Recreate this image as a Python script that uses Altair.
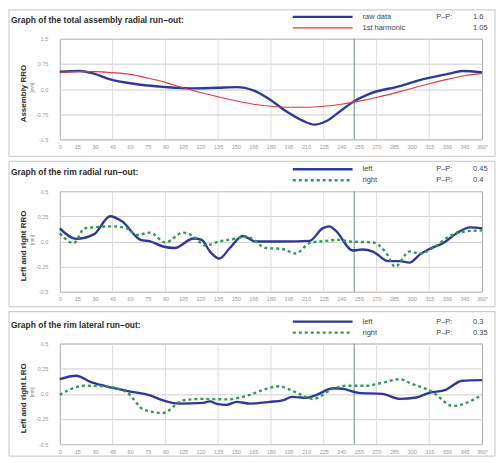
import altair as alt
import pandas as pd

# ---------------- data ----------------
deg_ticks = list(range(0, 361, 15))
vgrid_deg = [45, 90, 135, 180, 225, 270, 315]
marker_deg = [251]

# panel 1: total assembly radial run-out
raw_deg = [0, 17, 29, 43, 63, 90, 111, 134, 151, 165, 179, 193, 207, 217, 227, 239, 251, 264, 290, 309, 332, 343, 360]
raw_val = [0.52, 0.54, 0.46, 0.29, 0.16, 0.06, 0.02, 0.04, 0.06, -0.04, -0.31, -0.66, -0.94, -1.06, -0.96, -0.66,
           -0.36, -0.14, 0.09, 0.29, 0.46, 0.54, 0.50]
harm_deg = list(range(0, 361, 15))
harm_val = [0.49, 0.52, 0.52, 0.49, 0.44, 0.33, 0.20, 0.04, -0.10, -0.23, -0.35, -0.45, -0.51, -0.54, -0.54,
            -0.51, -0.45, -0.36, -0.25, -0.12, 0.02, 0.16, 0.29, 0.40, 0.47]

# panel 2: rim radial run-out
left2_deg = [0, 14, 29, 43, 53, 69, 77, 88, 98, 114, 121, 128, 136, 145, 156, 167, 190, 213, 224, 230, 235, 250,
             258, 267, 280, 290, 298, 307, 315, 327, 338, 350, 360]
left2_val = [0.13, 0.026, 0.07, 0.25, 0.20, 0.016, 0.0, -0.05, -0.065, 0.03, 0.016, -0.10, -0.17, -0.065, 0.055, 0.0,
             0.0, 0.006, 0.13, 0.15, 0.11, -0.09, -0.08, -0.10, -0.195, -0.195, -0.21, -0.13, -0.075, -0.016, 0.08,
             0.14, 0.13]
right2_deg = [0, 12, 21, 35, 46, 57, 66, 77, 90, 105, 114, 124, 136, 151, 159, 176, 190, 201, 213, 227, 238, 247,
              267, 278, 286, 298, 307, 318, 332, 346, 360]
right2_val = [0.08, -0.016, 0.13, 0.146, 0.15, 0.13, 0.065, 0.088, -0.01, 0.088, 0.05, -0.04, 0.0, 0.03, 0.05,
              -0.065, -0.075, -0.12, -0.016, 0.006, 0.016, 0.0, -0.01, -0.11, -0.25, -0.10, -0.12, -0.065, 0.05,
              0.10, 0.11]

# panel 3: rim lateral run-out
left3_deg = [0, 14, 26, 38, 57, 77, 88, 102, 122, 128, 134, 142, 151, 162, 179, 190, 198, 210, 219, 233, 241, 255,
             275, 290, 304, 315, 329, 343, 360]
left3_val = [0.146, 0.18, 0.12, 0.08, 0.03, -0.016, -0.065, -0.097, -0.09, -0.075, -0.10, -0.11, -0.08, -0.097,
             -0.08, -0.065, -0.03, -0.04, -0.01, 0.055, 0.05, 0.01, 0.0, -0.05, -0.036, 0.01, 0.04, 0.13, 0.136]
right3_deg = [0, 10, 21, 38, 57, 72, 88, 105, 122, 142, 162, 176, 187, 201, 216, 233, 244, 261, 275, 290, 298, 318,
              335, 360]
right3_val = [-0.01, 0.05, 0.08, 0.075, 0.016, -0.16, -0.19, -0.065, -0.05, -0.055, -0.01, 0.05, 0.075, 0.016,
              -0.05, 0.05, 0.08, 0.08, 0.11, 0.146, 0.11, 0.016, -0.12, -0.01]

titles = ["Graph of the total assembly radial run\u2013out:",
          "Graph of the rim radial run\u2013out:",
          "Graph of the rim lateral run\u2013out:"]
y_titles = ["Assembly RRO", "Left and right RRO", "Left and right LRO"]
legend_labels = [["raw data", "1st harmonic"], ["left", "right"], ["left", "right"]]
pp_labels = [["P\u2013P:", ""], ["P\u2013P:", "P\u2013P:"], ["P\u2013P:", "P\u2013P:"]]
pp_values = [["1.6", "1.05"], ["0.45", "0.4"], ["0.3", "0.35"]]
y_ticks_big = [1.5, 0.75, 0.0, -0.75, -1.5]
y_ticks_small = [0.5, 0.25, 0.0, -0.25, -0.5]

# ---------------- styles ----------------
W, H = 424, 101
BLUE = "#2e3a98"
RED = "#e23a3a"
GREEN = "#2f9a52"
FONT = "Liberation Sans"
dummy = pd.DataFrame({"a": [0]})

line_styles = {
    "blue": dict(color=BLUE, strokeWidth=2.4),
    "red": dict(color=RED, strokeWidth=1.1),
    "green": dict(color=GREEN, strokeWidth=2.4, strokeDash=[3, 3]),
}


def panel(idx, series, ticks, top, bottom):
    ymax = ticks[0]
    xs = alt.Scale(domain=[0, 360], nice=False, zero=False)
    ys = alt.Scale(domain=[-ymax, ymax], nice=False, zero=False)
    x_axis = alt.Axis(values=deg_ticks, grid=False, domain=False, ticks=False, labelFontSize=5.5,
                      labelColor="#999999", labelPadding=5, title=None, labelFont=FONT,
                      labelOverlap=False, labelBound=False,
                      labelExpr="datum.value == 360 ? '360\u00b0' : datum.value", labelFlush=False)
    y_axis = alt.Axis(values=ticks, grid=True, gridColor="#cfcfcf", domain=False, ticks=False, labelFontSize=5.5,
                      labelColor="#999999", labelPadding=12, title=None, labelFont=FONT, labelOverlap=False,
                      labelExpr="datum.value == 0 ? '0.0' : '' + datum.value")

    layers = []
    # frame
    layers.append(alt.Chart(dummy).mark_rect(fillOpacity=0, stroke="#c4c4c4", strokeWidth=1).encode(
        x=alt.value(-51), x2=alt.value(W + 13), y=alt.value(-top), y2=alt.value(H + bottom)))
    # vertical grid
    layers.append(alt.Chart(pd.DataFrame({"deg": vgrid_deg})).mark_rule(color="#dcdcdc", strokeWidth=1).encode(
        x=alt.X("deg:Q", scale=xs, axis=x_axis),
        y=alt.value(0), y2=alt.value(H)))
    layers.append(alt.Chart(pd.DataFrame({"deg": marker_deg})).mark_rule(color="#6f8c8c", strokeWidth=1).encode(
        x=alt.X("deg:Q", scale=xs, axis=x_axis), y=alt.value(0), y2=alt.value(H)))
    # series
    for degs, vals, style in series:
        df = pd.DataFrame({"deg": degs, "val": vals})
        layers.append(alt.Chart(df).mark_line(interpolate="monotone", **line_styles[style]).encode(
            x=alt.X("deg:Q", scale=xs, axis=x_axis),
            y=alt.Y("val:Q", scale=ys, axis=y_axis)))
    # title
    layers.append(alt.Chart(dummy).mark_text(text=titles[idx], align="left", baseline="middle", fontSize=8.5,
                                             fontWeight="bold", font=FONT, color="#2a2a2a").encode(
        x=alt.value(-49), y=alt.value(-19)))
    # y titles
    layers.append(alt.Chart(dummy).mark_text(text=y_titles[idx], angle=270, align="center", baseline="middle",
                                             fontSize=8, fontWeight="bold", font=FONT, color="#2a2a2a").encode(
        x=alt.value(-36), y=alt.value(55)))
    layers.append(alt.Chart(dummy).mark_text(text="[mm]", angle=270, align="center", baseline="middle",
                                             fontSize=4.5, font=FONT, color="#888888").encode(
        x=alt.value(-27), y=alt.value(49)))
    # legend
    row_y = [-22, -11]
    for r in range(2):
        style = series[r][2]
        layers.append(alt.Chart(dummy).mark_rule(**line_styles[style]).encode(
            x=alt.value(234), x2=alt.value(294), y=alt.value(row_y[r])))
        layers.append(alt.Chart(dummy).mark_text(text=legend_labels[idx][r], align="left", baseline="middle",
                                                 fontSize=7.5, font=FONT, color="#444444").encode(
            x=alt.value(304), y=alt.value(row_y[r])))
        if pp_labels[idx][r]:
            layers.append(alt.Chart(dummy).mark_text(text=pp_labels[idx][r], align="left", baseline="middle",
                                                     fontSize=7.5, font=FONT, color="#444444").encode(
                x=alt.value(378), y=alt.value(row_y[r])))
        layers.append(alt.Chart(dummy).mark_text(text=pp_values[idx][r], align="left", baseline="middle",
                                                 fontSize=7.5, font=FONT, color="#444444").encode(
            x=alt.value(415), y=alt.value(row_y[r])))
    return alt.layer(*layers).properties(width=W, height=H)


p1 = panel(0, [(raw_deg, raw_val, "blue"), (harm_deg, harm_val, "red")], y_ticks_big, 29, 17)
p2 = panel(1, [(left2_deg, left2_val, "blue"), (right2_deg, right2_val, "green")], y_ticks_small, 30, 15)
p3 = panel(2, [(left3_deg, left3_val, "blue"), (right3_deg, right3_val, "green")], y_ticks_small, 32, 12)

chart = alt.vconcat(p1, p2, p3, spacing=3).properties(padding=0, background="white").configure_view(
    stroke="#a8a8a8", strokeWidth=1).configure_axis(labelOverlap=False).configure_axisX(
    labelOverlap=False, labelSeparation=0)

chart.save("out.html", embed_options={"renderer": "svg", "actions": False})
